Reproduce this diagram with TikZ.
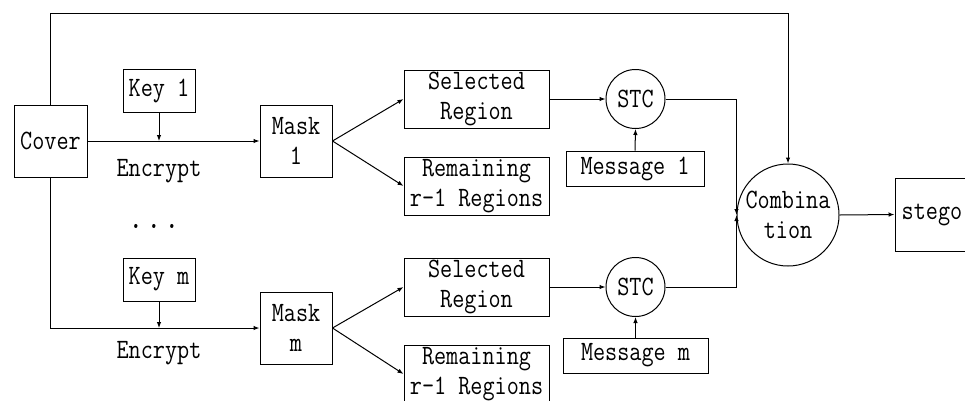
\documentclass[tikz,border=0pt]{standalone}
\usepackage{fontspec}
\setmonofont{Latin Modern Mono}[FakeStretch=0.84]
\usetikzlibrary{positioning,arrows.meta}
\tikzset{
  every picture/.style={line width=1pt},
  blk/.style={draw,rectangle,minimum height=72pt,minimum width=72pt,align=center,inner sep=0pt},
  keybox/.style={blk,minimum height=43pt},
  reg/.style={blk,minimum width=145pt,minimum height=58pt},
  msg/.style={blk,minimum width=140pt,minimum height=35pt},
  stc/.style={draw,circle,minimum size=59pt,inner sep=0pt,align=center},
  lbl/.style={inner sep=1pt},
  flow/.style={-{Latex[length=6pt,width=4.5pt]}},
}

\begin{document}
\begin{tikzpicture}[x=1pt,y=-1pt,font=\ttfamily\fontsize{28}{30}\selectfont]
\useasboundingbox (0,0) rectangle (965,400);
\clip (0,0) rectangle (965,400);
% cover and keys
\node[blk,minimum width=73pt] (cover) at (50.5,141) {Cover};
\node[keybox] (key1) at (159,90.5) {Key 1};
\node[keybox] (keym) at (159,279.5) {Key m};
\node[lbl] (enc1) at (159,171) {Encrypt};
\node[lbl] (encm) at (159,353) {Encrypt};
\node[lbl,anchor=base,font=\ttfamily\fontsize{36}{36}\selectfont] (dots) at (154,228)
  {\makebox[18pt]{.}\makebox[18pt]{.}\makebox[18pt]{.}};
% masks
\node[blk] (mask1) at (296,141) {Mask\\1};
\node[blk] (maskm) at (296,328) {Mask\\m};
% regions
\node[reg] (sel1) at (476.5,99) {Selected\\Region};
\node[reg] (rem1) at (476.5,186) {Remaining\\r-1 Regions};
\node[reg] (selm) at (476.5,287) {Selected\\Region};
\node[reg] (remm) at (476.5,374) {Remaining\\r-1 Regions};
% stc + messages
\node[stc] (stc1) at (635.5,99) {STC};
\node[stc] (stcm) at (635.5,287) {STC};
\node[msg,minimum width=138pt] (msg1) at (635,168.5) {Message 1};
\node[msg,minimum width=145pt] (msgm) at (635.5,355.5) {Message m};
% combination + output
\node[stc,minimum size=102pt] (comb) at (788,215) {Combina\\tion};
\node[blk,minimum width=74pt,minimum height=73pt] (stego) at (932,214.5) {stego};
\coordinate (top) at (50,13);

% connectors
\draw[flow] (cover.north) |- (top -| comb.north) -- (comb.north);
\draw[flow] (cover.east) -- (mask1.west);
\draw[flow] (key1.south) -- (key1.south |- cover.east);
\draw[flow] (cover.south) |- (maskm.west);
\draw[flow] (keym.south) -- (keym.south |- maskm.west);
\draw[flow] (mask1.east) -- (sel1.west);
\draw[flow] (mask1.east) -- (rem1.west);
\draw[flow] (maskm.east) -- (selm.west);
\draw[flow] (maskm.east) -- (remm.west);
\draw[flow] (sel1.east) -- (stc1.west);
\draw[flow] (selm.east) -- (stcm.west);
\draw[flow] (msg1.north) -- (stc1.south);
\draw[flow] (msgm.north) -- (stcm.south);
\draw[flow] (stc1.east) -| (comb.west);
\draw[flow] (stcm.east) -| (comb.west);
\draw[flow] (comb.east) -- (stego.west);
\end{tikzpicture}
\end{document}
